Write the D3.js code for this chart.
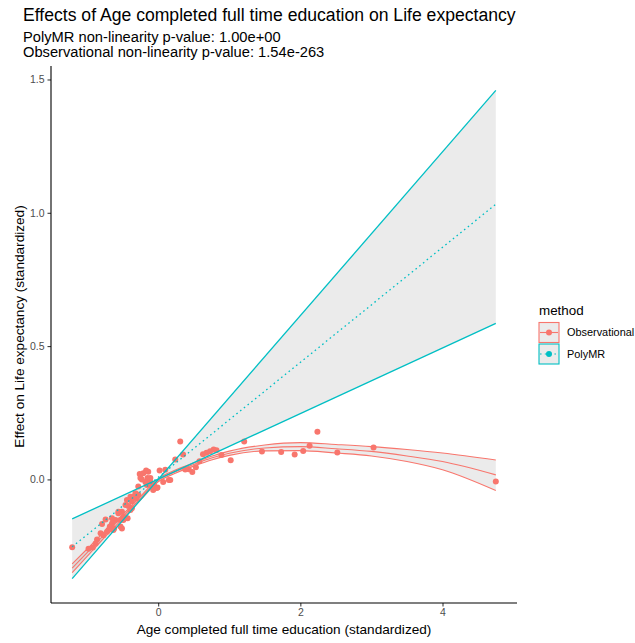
<!DOCTYPE html>
<html>
<head>
<meta charset="utf-8">
<script src="https://cdn.jsdelivr.net/npm/d3@7"></script>
<style>
  html, body { margin: 0; padding: 0; background: #fff; }
  svg { display: block; font-family: "Liberation Sans", Arial, Helvetica, sans-serif; }
</style>
</head>
<body>
<svg id="chart" width="635" height="643"></svg>
<script>
// Observational per-bin estimates (standardized exposure vs standardized effect)
const obsX = [4.75, 3.03, 2.52, 2.24, 2.13, 2.04, 1.92, 1.73, 1.46, 1.21, 1.02, 0.89, 0.82, 0.78, 0.73,
  0.68, 0.63, 0.58, 0.53, 0.48, 0.43, 0.38, 0.35, 0.31, 0.24, 0.17, 0.15, 0.10, 0.07, 0.02,
  -0.01, -0.02, -0.06, -0.07, -0.09, -0.11, -0.11, -0.14, -0.15, -0.16, -0.17, -0.18, -0.21, -0.23, -0.25,
  -0.26, -0.28, -0.28, -0.30, -0.31, -0.32, -0.35, -0.37, -0.37, -0.39, -0.39, -0.42, -0.43, -0.44, -0.46,
  -0.49, -0.49, -0.51, -0.51, -0.53, -0.53, -0.56, -0.56, -0.60, -0.62, -0.63, -0.65, -0.65, -0.68, -0.70,
  -0.72, -0.74, -0.77, -0.79, -0.81, -0.86, -0.88, -0.92, -0.98, -1.21];
const obsY = [-0.008, 0.120, 0.101, 0.179, 0.126, 0.107, 0.093, 0.103, 0.105, 0.142, 0.072, 0.092, 0.109, 0.112, 0.106,
  0.100, 0.094, 0.068, 0.046, 0.028, 0.038, 0.037, 0.093, 0.142, 0.075, -0.002, -0.002, 0.036, -0.010, 0.033,
  -0.030, -0.032, -0.020, -0.040, -0.027, -0.010, 0.005, 0.029, 0.005, -0.021, 0.033, -0.010, 0.023, 0.000, 0.005,
  0.020, -0.027, -0.058, -0.065, -0.071, -0.052, -0.065, -0.083, -0.108, -0.115, -0.065, -0.100, -0.146, -0.077, -0.096,
  -0.140, -0.152, -0.121, -0.184, -0.152, -0.177, -0.121, -0.127, -0.152, -0.184, -0.190, -0.146, -0.165, -0.177, -0.190,
  -0.196, -0.150, -0.209, -0.167, -0.202, -0.225, -0.240, -0.255, -0.260, -0.254];

// Observational smooth fit with its confidence band
const obsCurveX = [-1.21, -1.0, -0.75, -0.5, -0.25, 0, 0.25, 0.5, 0.75, 1.0, 1.5, 2.0, 2.5, 3.0, 3.5, 4.0, 4.75];
const obsFit    = [-0.333, -0.275, -0.205, -0.140, -0.071, -0.003, 0.030, 0.056, 0.080, 0.098, 0.118, 0.123, 0.115, 0.105, 0.088, 0.067, 0.017];
const obsLower  = [-0.350, -0.289, -0.216, -0.148, -0.078, -0.009, 0.024, 0.050, 0.073, 0.090, 0.107, 0.108, 0.099, 0.088, 0.067, 0.036, -0.042];
const obsUpper  = [-0.317, -0.261, -0.194, -0.132, -0.064, 0.003, 0.036, 0.062, 0.087, 0.106, 0.129, 0.138, 0.131, 0.123, 0.112, 0.099, 0.073];

// PolyMR linear fit and its interval (ends of straight lines)
const polyX     = [-1.21, 4.75];
const polyFit   = [-0.253, 1.032];
const polyLower = [-0.148, 0.585];
const polyUpper = [-0.372, 1.459];

const xTicks = [0, 2, 4];
const yTicks = [0, 0.5, 1.0, 1.5];

const methods = ["Observational", "PolyMR"];
const methodColors = ["#F8766D", "#00BFC4"];

const title = "Effects of Age completed full time education on Life expectancy";
const subtitle1 = "PolyMR non-linearity p-value: 1.00e+00";
const subtitle2 = "Observational non-linearity p-value: 1.54e-263";
const xTitle = "Age completed full time education (standardized)";
const yTitle = "Effect on Life expectancy (standardized)";

const svg = d3.select("#chart");
const panel = { left: 51, right: 517, top: 66, bottom: 603 };

// ggplot-style 5% expansion of the data extent
function expanded(values) {
  const [lo, hi] = d3.extent(values);
  const pad = (hi - lo) * 0.05;
  return [lo - pad, hi + pad];
}
const allX = [...obsX, ...obsCurveX, ...polyX];
const allY = [...obsY, ...obsLower, ...obsUpper, ...polyLower, ...polyUpper, ...polyFit];
const x = d3.scaleLinear().domain(expanded(allX)).range([panel.left, panel.right]);
const y = d3.scaleLinear().domain(expanded(allY)).range([panel.bottom, panel.top]);

const color = d3.scaleOrdinal().domain(methods).range(methodColors);
const ribbonFill = "rgba(153,153,153,0.2)";

const plot = svg.append("g");

// Confidence ribbons
const obsRows = obsCurveX.map((d, i) => ({ x: d, fit: obsFit[i], lo: obsLower[i], hi: obsUpper[i] }));
const polyRows = polyX.map((d, i) => ({ x: d, fit: polyFit[i], lo: polyLower[i], hi: polyUpper[i] }));

const curve = d3.curveMonotoneX;
const area = d3.area().x(d => x(d.x)).y0(d => y(d.lo)).y1(d => y(d.hi));
plot.append("path").datum(polyRows).attr("d", area).attr("fill", ribbonFill);
plot.append("path").datum(obsRows).attr("d", area.curve(curve)).attr("fill", ribbonFill);

// Observational points
plot.append("g").selectAll("circle")
  .data(obsX.map((d, i) => ({ x: d, y: obsY[i] })))
  .join("circle")
  .attr("cx", d => x(d.x))
  .attr("cy", d => y(d.y))
  .attr("r", 3)
  .attr("fill", color("Observational"));

// Observational fit and band edges
const lineOf = key => d3.line().x(d => x(d.x)).y(d => y(d[key]));
["lo", "hi", "fit"].forEach(k => {
  plot.append("path").datum(obsRows)
    .attr("d", lineOf(k).curve(curve)(obsRows))
    .attr("fill", "none")
    .attr("stroke", color("Observational"))
    .attr("stroke-width", 1.1);
});

// PolyMR interval edges and dotted fit
["lo", "hi"].forEach(k => {
  plot.append("path")
    .attr("d", lineOf(k)(polyRows))
    .attr("fill", "none")
    .attr("stroke", color("PolyMR"))
    .attr("stroke-width", 1.3);
});
plot.append("path")
  .attr("d", lineOf("fit")(polyRows))
  .attr("fill", "none")
  .attr("stroke", color("PolyMR"))
  .attr("stroke-width", 1.3)
  .attr("stroke-dasharray", "1.6,3.2");

// Axes
const xAxis = svg.append("g")
  .attr("transform", `translate(0,${panel.bottom})`)
  .call(d3.axisBottom(x).tickValues(xTicks).tickFormat(d3.format("d")).tickSizeInner(3.5).tickSizeOuter(0).tickPadding(2.5));
const yAxis = svg.append("g")
  .attr("transform", `translate(${panel.left},0)`)
  .call(d3.axisLeft(y).tickValues(yTicks).tickFormat(d3.format(".1f")).tickSizeInner(3.5).tickSizeOuter(0).tickPadding(3));

[xAxis, yAxis].forEach(g => {
  g.select(".domain").remove();
  g.selectAll(".tick line").attr("stroke", "#333333").attr("stroke-width", 1.05);
  g.selectAll(".tick text").attr("fill", "#4d4d4d").style("font-size", "10.5px")
    .style("font-family", "'Liberation Sans', Arial, sans-serif");
});

// Axis lines (classic theme)
svg.append("line").attr("x1", panel.left).attr("x2", panel.right)
  .attr("y1", panel.bottom).attr("y2", panel.bottom)
  .attr("stroke", "#000").attr("stroke-width", 1.1);
svg.append("line").attr("x1", panel.left).attr("x2", panel.left)
  .attr("y1", panel.top).attr("y2", panel.bottom)
  .attr("stroke", "#000").attr("stroke-width", 1.1);

// Axis titles
svg.append("text")
  .attr("x", (panel.left + panel.right) / 2).attr("y", 634)
  .attr("text-anchor", "middle").style("font-size", "13.6px").attr("fill", "#000")
  .text(xTitle);
svg.append("text")
  .attr("transform", `translate(24,${(panel.top + panel.bottom) / 2 - 8}) rotate(-90)`)
  .attr("text-anchor", "middle").style("font-size", "13.6px").attr("fill", "#000")
  .text(yTitle);

// Title and subtitles
svg.append("text").attr("x", 23).attr("y", 21).style("font-size", "17.6px").text(title);
svg.append("text").attr("x", 23).attr("y", 42).style("font-size", "14.7px").text(subtitle1);
svg.append("text").attr("x", 23).attr("y", 57).style("font-size", "14.7px").text(subtitle2);

// Legend
const legend = svg.append("g").attr("transform", "translate(539,0)");
legend.append("text").attr("x", 0).attr("y", 315).style("font-size", "13.4px").text("method");
methods.forEach((m, i) => {
  const top = 322.5 + i * 21.5;
  const g = legend.append("g");
  g.append("rect").attr("x", 0).attr("y", top).attr("width", 20).attr("height", 20)
    .attr("fill", "#ebebeb").attr("stroke", color(m)).attr("stroke-width", 1.1);
  g.append("line").attr("x1", 1).attr("x2", 19).attr("y1", top + 10).attr("y2", top + 10)
    .attr("stroke", color(m)).attr("stroke-width", 1.1)
    .attr("stroke-dasharray", m === "PolyMR" ? "1.6,3.2" : null);
  g.append("circle").attr("cx", 10).attr("cy", top + 10).attr("r", 3).attr("fill", color(m));
  g.append("text").attr("x", 28).attr("y", top + 10).attr("dy", "0.35em")
    .style("font-size", "10.9px").text(m);
});
</script>
</body>
</html>
